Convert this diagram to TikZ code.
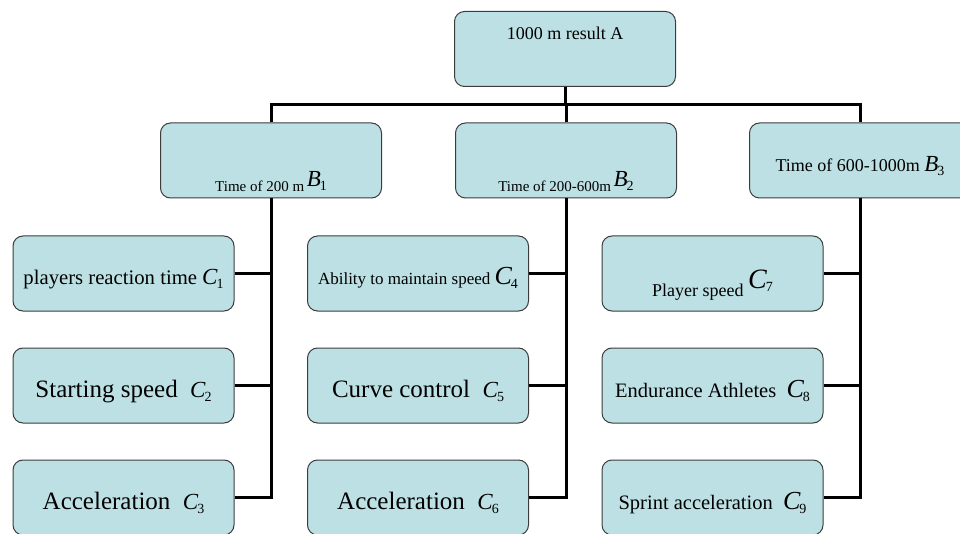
\documentclass[tikz,border=0pt]{standalone}
\usepackage{fontspec}
\setmainfont{Liberation Serif}
\definecolor{boxfill}{RGB}{188,224,227}
\definecolor{boxline}{RGB}{60,60,60}
% italic symbol with upright index
\newcommand{\sym}[3][23]{{\fontsize{#1}{#1}\selectfont\itshape #2}\kern-1pt\raisebox{-4pt}{\fontsize{14}{14}\selectfont #3}}
\begin{document}
\begin{tikzpicture}[x=1pt, y=-1pt,
        box/.style={draw=boxline, fill=boxfill, line width=1pt, rounded corners=10pt,
            minimum width=221pt, minimum height=75pt, inner sep=2pt,
            text height=23pt, text depth=0pt},
        fs/.style={font=\fontsize{#1}{#1}\selectfont},
        conn/.style={line width=3pt}]
        \useasboundingbox (0,0) rectangle (960,534);
        % top
        \node[box, fs=18, text height=0pt, text depth=18pt] (A) at (565,49) {1000 m result A};
        % second level
        \node[box, fs=15, text height=63pt] (B1) at (271,160.5) {Time of 200 m\,\raisebox{5pt}{\sym{B}{1}}};
        \node[box, fs=15, text height=63pt] (B2) at (566,160.5) {Time of 200-600m\,\raisebox{5pt}{\sym{B}{2}}};
        \node[box, fs=18] (B3) at (860,160.5) {Time of 600-1000m \sym{B}{3}};
        % third level
        \node[box, fs=20.7] (C1) at (123.5,273.5) {players reaction time \sym{C}{1}};
        \node[box, fs=25] (C2) at (123.5,385.5) {Starting speed\enspace\sym{C}{2}};
        \node[box, fs=25] (C3) at (123.5,497.5) {Acceleration\enspace\sym{C}{3}};
        \node[box, fs=17] (C4) at (418,273.5) {Ability to maintain speed \sym[26]{C}{4}};
        \node[box, fs=25] (C5) at (418,385.5) {Curve control\enspace\sym{C}{5}};
        \node[box, fs=25] (C6) at (418,497.5) {Acceleration\enspace\sym{C}{6}};
        \node[box, fs=18, text height=47pt] (C7) at (712.5,273.5) {Player speed \raisebox{9pt}{\sym[28]{C}{7}}};
        \node[box, fs=20.5] (C8) at (712.5,385.5) {Endurance Athletes\enspace\sym[26]{C}{8}};
        \node[box, fs=20.5] (C9) at (712.5,497.5) {Sprint acceleration\enspace\sym[26]{C}{9}};
        % connectors
        \coordinate (bus) at (0,105);
        \draw[conn] (A.south) -- (A.south |- bus);
        \draw[conn] (B1.north) -- (B1.north |- bus) -- (B3.north |- bus) -- (B3.north);
        \draw[conn] (B2.north) -- (B2.north |- bus);
        \draw[conn] (B1.south) |- (C3.east);
        \draw[conn] (C1.east) -- (C1.east -| B1.south);
        \draw[conn] (C2.east) -- (C2.east -| B1.south);
        \draw[conn] (B2.south) |- (C6.east);
        \draw[conn] (C4.east) -- (C4.east -| B2.south);
        \draw[conn] (C5.east) -- (C5.east -| B2.south);
        \draw[conn] (B3.south) |- (C9.east);
        \draw[conn] (C7.east) -- (C7.east -| B3.south);
        \draw[conn] (C8.east) -- (C8.east -| B3.south);
    \end{tikzpicture}
\end{document}
